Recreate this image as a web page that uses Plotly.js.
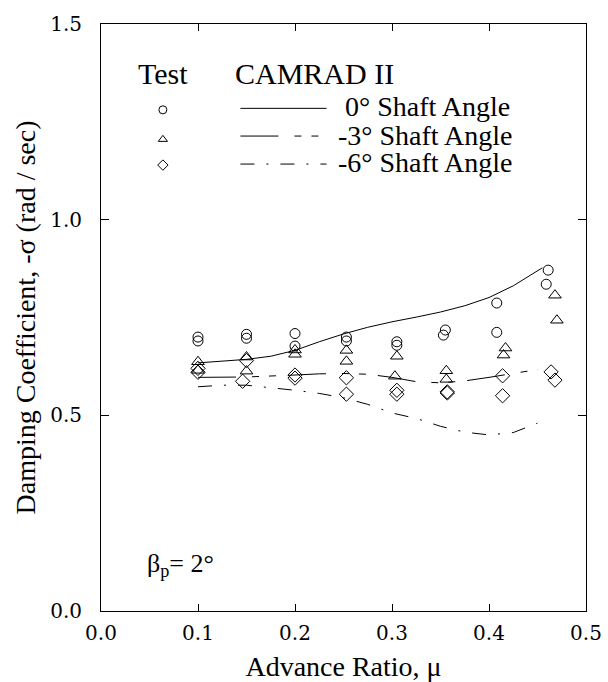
<!DOCTYPE html>
<html>
<head>
<meta charset="utf-8">
<script src="https://cdn.plot.ly/plotly-3.0.1.min.js"></script>
<style>html,body{margin:0;padding:0;background:#fff;}#chart{width:608px;height:682px;}</style>
</head>
<body>
<div id="chart"></div>
<script>
// ---- Test data (symbols) ----
const testMu0  = [0.100,0.100,0.150,0.150,0.200,0.200,0.253,0.253,0.305,0.305,0.355,0.353,0.408,0.408,0.461,0.459];
const testSig0 = [0.700,0.690,0.707,0.697,0.709,0.677,0.700,0.690,0.688,0.679,0.718,0.705,0.787,0.712,0.871,0.835];
const testMu3  = [0.100,0.100,0.150,0.150,0.200,0.200,0.253,0.253,0.305,0.303,0.356,0.356,0.417,0.415,0.468,0.470];
const testSig3 = [0.637,0.615,0.649,0.613,0.667,0.656,0.666,0.638,0.651,0.600,0.614,0.592,0.672,0.654,0.807,0.743];
const testMu6  = [0.100,0.100,0.150,0.146,0.200,0.200,0.253,0.253,0.305,0.305,0.357,0.357,0.414,0.414,0.464,0.468];
const testSig6 = [0.620,0.610,0.640,0.587,0.603,0.595,0.596,0.554,0.564,0.554,0.560,0.557,0.601,0.550,0.611,0.590];

// ---- CAMRAD II curves ----
const camMu0  = [0.100,0.125,0.150,0.175,0.200,0.225,0.250,0.275,0.300,0.325,0.350,0.375,0.400,0.425,0.450,0.455];
const camSig0 = [0.634,0.638,0.643,0.651,0.666,0.688,0.708,0.725,0.739,0.751,0.764,0.780,0.801,0.831,0.868,0.877];
const camMu3  = [0.100,0.150,0.200,0.225,0.250,0.275,0.300,0.325,0.350,0.375,0.400,0.425,0.450];
const camSig3 = [0.597,0.598,0.603,0.606,0.607,0.605,0.597,0.586,0.583,0.588,0.597,0.607,0.617];
const camMu6  = [0.100,0.125,0.150,0.175,0.200,0.225,0.250,0.275,0.300,0.325,0.350,0.375,0.400,0.425,0.450];
const camSig6 = [0.573,0.577,0.577,0.571,0.564,0.556,0.545,0.528,0.506,0.492,0.472,0.457,0.450,0.456,0.480];

// ---- Text ----
const xTitle = 'Advance Ratio, \u03bc';
const yTitle = 'Damping Coefficient, -\u03c3 (rad / sec)';
const legendHeadTest = 'Test';
const legendHeadCam = 'CAMRAD II';
const seriesLabels = ['0\u00b0 Shaft Angle', '-3\u00b0 Shaft Angle', '-6\u00b0 Shaft Angle'];
const noteText = '\u03b2<sub>p</sub>= 2\u00b0';

// ---- Styling / layout constants ----
const FONT = 'Liberation Serif';
const TFONT = 'DejaVu Serif';
const dash3 = '38px,16px,7px,10px,7px,12px';
const dash6 = '14px,12px,2px,12px';
const symbols = ['circle-open', 'triangle-up-open', 'diamond-open'];
const dashes = ['solid', dash3, dash6];
const symSizes = [10, 11, 11];

// legend positions in overlay (0..1) space
const legSymX = 0.1276;
const legRowY = [0.8538, 0.8035, 0.7597];
const legLineX = [0.2875, 0.4651];
const legLineY = [0.8563, 0.8091, 0.7614];

const testMu = [testMu0, testMu3, testMu6];
const testSig = [testSig0, testSig3, testSig6];
const camMu = [camMu0, camMu3, camMu6];
const camSig = [camSig0, camSig3, camSig6];

const traces = [];
for (let i = 0; i < 3; i++) {
  traces.push({x: camMu[i], y: camSig[i], mode: 'lines', type: 'scatter',
    line: {color: '#000', width: 1, dash: dashes[i]}, showlegend: false, hoverinfo: 'skip'});
}
for (let i = 0; i < 3; i++) {
  traces.push({x: testMu[i], y: testSig[i], mode: 'markers', type: 'scatter',
    marker: {symbol: symbols[i], size: symSizes[i], color: '#000', line: {width: 1, color: '#000'}},
    showlegend: false, hoverinfo: 'skip'});
}
// legend samples on hidden overlay axes
for (let i = 0; i < 3; i++) {
  traces.push({x: [legSymX], y: [legRowY[i]], xaxis: 'x2', yaxis: 'y2', mode: 'markers', type: 'scatter',
    marker: {symbol: symbols[i], size: 8, color: '#000', line: {width: 1, color: '#000'}},
    showlegend: false, hoverinfo: 'skip'});
  traces.push({x: legLineX, y: [legLineY[i], legLineY[i]], xaxis: 'x2', yaxis: 'y2', mode: 'lines', type: 'scatter',
    line: {color: '#000', width: 1, dash: dashes[i]}, showlegend: false, hoverinfo: 'skip'});
}

const ann = (text, x, y, size) => ({text, x, y, xref: 'paper', yref: 'paper', xanchor: 'left', yanchor: 'middle',
  showarrow: false, font: {family: FONT, size: size, color: '#000'}});

const layout = {
  width: 608, height: 682,
  margin: {l: 101, r: 22, t: 24, b: 71, pad: 0},
  paper_bgcolor: '#fff', plot_bgcolor: '#fff',
  showlegend: false,
  font: {family: FONT, color: '#000'},
  xaxis: {
    range: [0, 0.5], dtick: 0.1, tick0: 0, tickformat: '.1f',
    ticks: 'inside', ticklen: 7, tickwidth: 1, tickcolor: '#000',
    showline: true, linecolor: '#000', linewidth: 1, mirror: 'ticks',
    showgrid: false, zeroline: false,
    tickfont: {family: TFONT, size: 20, color: '#000'},
    ticklabelstandoff: 4,
    title: {text: xTitle, font: {family: FONT, size: 28, color: '#000'}, standoff: 16}
  },
  yaxis: {
    range: [0, 1.5], dtick: 0.5, tick0: 0, tickformat: '.1f',
    ticks: 'inside', ticklen: 8, tickwidth: 1, tickcolor: '#000',
    showline: true, linecolor: '#000', linewidth: 1, mirror: 'ticks',
    showgrid: false, zeroline: false,
    tickfont: {family: TFONT, size: 20, color: '#000'},
    ticklabelstandoff: 14,
    title: {text: yTitle, font: {family: FONT, size: 28, color: '#000'}, standoff: 6}
  },
  xaxis2: {overlaying: 'x', range: [0, 1], visible: false, fixedrange: true},
  yaxis2: {overlaying: 'y', range: [0, 1], visible: false, fixedrange: true},
  annotations: [
    ann(legendHeadTest, 0.0727, 0.9165, 30),
    ann(legendHeadCam, 0.2722, 0.9165, 30),
    ann(seriesLabels[0], 0.4988, 0.8602, 28),
    ann(seriesLabels[1], 0.4843, 0.8108, 28),
    ann(seriesLabels[2], 0.4843, 0.7648, 28),
    ann(noteText, 0.0898, 0.0779, 26)
  ]
};

Plotly.newPlot('chart', traces, layout, {displayModeBar: false, staticPlot: true});
</script>
</body>
</html>
